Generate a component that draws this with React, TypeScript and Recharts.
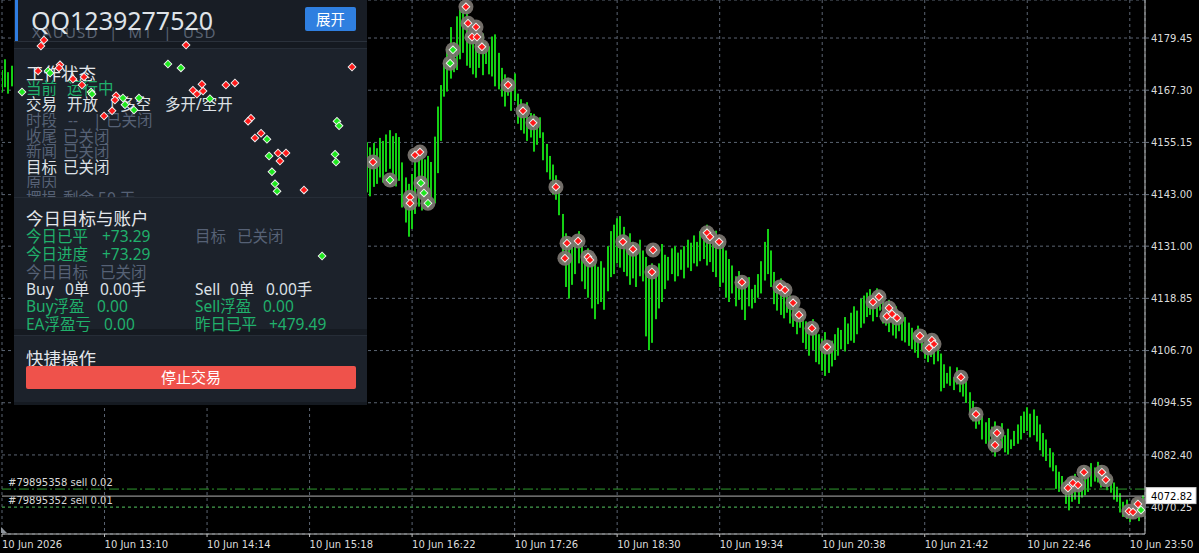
import React from 'react';
import { ComposedChart, Bar, Scatter, XAxis, YAxis, CartesianGrid, ReferenceLine } from 'recharts';

const W = 1199;
const H = 553;

// minutes after 10 Jun 12:06
const xTicks = [0, 64, 128, 192, 256, 320, 384, 448, 512, 576, 640, 704];
const xTickLabels = [
  '10 Jun 2026', '10 Jun 13:10', '10 Jun 14:14', '10 Jun 15:18', '10 Jun 16:22', '10 Jun 17:26',
  '10 Jun 18:30', '10 Jun 19:34', '10 Jun 20:38', '10 Jun 21:42', '10 Jun 22:46', '10 Jun 23:50',
];
const yTicks = [4070.25, 4082.4, 4094.55, 4106.7, 4118.85, 4131.0, 4143.0, 4155.15, 4167.3, 4179.45];

const leftBarTimes = [0, 2, 4, 6];
const leftHighs = [4172.0, 4174.5, 4171.5, 4173.0];
const leftLows = [4166.8, 4168.0, 4166.5, 4168.2];

const mainStart = 228; // 2-minute bars from here
const highs = [
  4155.2, 4154.0, 4155.0, 4153.8, 4156.2, 4155.5, 4157.0, 4158.0, 4156.6, 4157.3,
  4156.4, 4150.5, 4147.0, 4145.5, 4147.8, 4150.8, 4152.5, 4153.0, 4151.2, 4152.0,
  4150.6, 4156.5, 4163.5, 4168.5, 4173.5, 4177.0, 4182.0, 4178.5, 4184.5, 4186.0,
  4187.2, 4185.5, 4183.5, 4181.0, 4182.2, 4179.0, 4180.5, 4178.5, 4177.5, 4179.8,
  4180.3, 4176.0, 4172.5, 4171.0, 4170.2, 4169.5, 4171.2, 4166.5, 4165.2, 4163.8,
  4164.5, 4162.0, 4161.8, 4160.5, 4161.0, 4157.5, 4154.8, 4152.0, 4150.0, 4147.5,
  4145.0, 4138.5, 4134.0, 4133.0, 4131.5, 4132.8, 4134.5, 4131.0, 4129.8, 4130.5,
  4128.8, 4127.0, 4126.2, 4127.5, 4126.0, 4131.0, 4134.5, 4136.0, 4137.5, 4138.0,
  4135.5, 4133.0, 4134.0, 4132.0, 4131.5, 4132.5, 4130.0, 4128.5, 4126.5, 4127.0,
  4125.5, 4127.0, 4131.5, 4129.0, 4128.5, 4130.5, 4131.0, 4129.5, 4130.2, 4131.0,
  4132.5, 4131.8, 4133.5, 4132.0, 4134.5, 4135.0, 4136.0, 4135.2, 4133.8, 4134.6,
  4133.0, 4132.0, 4130.0, 4128.0, 4126.5, 4124.0, 4125.2, 4124.0, 4122.5, 4123.8,
  4121.0, 4122.0, 4124.5, 4127.5, 4132.0, 4135.0, 4130.0, 4125.0, 4122.8, 4123.5,
  4121.5, 4120.0, 4119.5, 4118.0, 4117.5, 4116.2, 4115.0, 4113.5, 4112.8, 4114.0,
  4111.5, 4110.5, 4109.5, 4111.0, 4108.2, 4109.0, 4110.5, 4112.0, 4111.5, 4114.5,
  4113.0, 4115.5, 4117.0, 4116.0, 4118.8, 4119.5, 4120.2, 4121.0, 4120.0, 4121.2,
  4120.5, 4119.2, 4118.0, 4118.5, 4116.8, 4117.0, 4115.5, 4114.0, 4114.5, 4113.2,
  4112.0, 4111.0, 4112.5, 4110.5, 4111.2, 4109.8, 4110.2, 4109.0, 4108.5, 4106.0,
  4103.5, 4101.5, 4103.0, 4100.5, 4102.8, 4101.0, 4100.5, 4099.5, 4097.0, 4095.0,
  4093.5, 4092.8, 4091.5, 4090.0, 4091.0, 4089.0, 4090.2, 4088.5, 4089.8, 4087.0,
  4088.5, 4086.0, 4088.0, 4089.5, 4091.5, 4092.5, 4093.5, 4092.0, 4093.0, 4091.5,
  4089.5, 4087.5, 4086.0, 4084.0, 4083.0, 4080.0, 4078.5, 4077.5, 4076.5, 4076.0,
  4077.5, 4078.0, 4077.0, 4078.5, 4079.8, 4078.5, 4080.5, 4079.5, 4080.8, 4080.0,
  4079.2, 4078.5, 4077.0, 4076.0, 4075.0, 4073.5, 4071.5, 4072.0, 4070.8, 4071.5,
  4072.2, 4071.0, 4073.0,
];
const lows = [
  4143.5, 4142.6, 4144.8, 4145.5, 4147.0, 4145.8, 4148.3, 4149.0, 4147.2, 4144.9,
  4146.2, 4140.0, 4136.5, 4133.2, 4135.0, 4138.5, 4140.2, 4139.3, 4141.0, 4139.8,
  4141.5, 4141.0, 4148.0, 4155.5, 4165.8, 4167.0, 4170.0, 4171.5, 4172.0, 4174.5,
  4176.0, 4173.0, 4172.5, 4171.0, 4170.2, 4172.5, 4170.8, 4173.4, 4171.0, 4170.5,
  4168.2, 4167.5, 4165.8, 4163.5, 4166.0, 4162.5, 4164.8, 4159.5, 4158.0, 4157.2,
  4155.5, 4156.3, 4153.0, 4154.6, 4156.2, 4151.0, 4148.2, 4146.5, 4143.0, 4141.8,
  4138.2, 4127.0, 4121.5, 4118.8, 4122.0, 4124.5, 4127.0, 4122.8, 4121.0, 4119.0,
  4116.5, 4114.0, 4117.5, 4118.0, 4116.2, 4120.5, 4123.8, 4124.5, 4127.0, 4126.0,
  4125.0, 4124.0, 4122.0, 4123.5, 4121.5, 4124.0, 4122.8, 4110.0, 4106.8, 4108.5,
  4114.0, 4116.5, 4118.0, 4121.0, 4123.0, 4124.5, 4122.8, 4124.0, 4125.5, 4123.5,
  4126.0, 4125.2, 4127.0, 4126.3, 4127.5, 4128.0, 4126.5, 4127.3, 4125.0, 4123.8,
  4121.5, 4122.5, 4119.0, 4118.0, 4120.0, 4117.0, 4118.5, 4116.2, 4113.8, 4117.0,
  4116.5, 4117.8, 4119.0, 4120.0, 4123.0, 4124.5, 4121.5, 4117.5, 4116.0, 4115.0,
  4114.2, 4115.5, 4113.0, 4112.2, 4110.5, 4112.0, 4108.5, 4107.0, 4105.5, 4106.8,
  4104.0, 4103.5, 4102.0, 4100.8, 4101.5, 4103.0, 4104.5, 4105.5, 4107.0, 4106.5,
  4108.2, 4109.0, 4108.5, 4110.5, 4112.0, 4113.0, 4114.5, 4115.0, 4113.5, 4114.5,
  4116.0, 4113.0, 4112.5, 4111.0, 4110.2, 4109.5, 4111.2, 4109.0, 4108.6, 4107.8,
  4107.0, 4106.2, 4105.0, 4106.5, 4104.8, 4104.0, 4105.2, 4103.5, 4104.2, 4097.2,
  4098.0, 4099.0, 4098.5, 4097.5, 4098.8, 4097.0, 4096.0, 4094.5, 4092.0, 4090.2,
  4088.5, 4089.5, 4086.0, 4085.0, 4084.2, 4083.0, 4082.0, 4083.5, 4084.0, 4083.0,
  4082.5, 4083.8, 4084.5, 4085.0, 4086.0, 4087.5, 4088.0, 4086.5, 4087.0, 4085.5,
  4083.5, 4082.0, 4081.0, 4079.5, 4078.6, 4074.5, 4073.8, 4074.0, 4071.0, 4069.5,
  4071.5, 4072.0, 4071.0, 4072.5, 4073.0, 4073.8, 4075.0, 4076.2, 4076.0, 4074.8,
  4075.5, 4074.2, 4073.6, 4072.0, 4071.5, 4069.0, 4068.0, 4067.5, 4066.8, 4067.6,
  4068.2, 4067.0, 4068.5,
];

// trade markers: time (minutes after 12:06), price, side (s = sell/red, b = buy/green)
const tradeTimes = [
  24.3, 26.2, 114.9, 22.5, 36.2, 35.6, 44.3, 51.2, 49.9, 71.2, 70.5, 68.7, 63.7, 124.8,
  119.2, 121.7, 125.5, 139.8, 145.4, 155.4, 153.6, 161.7, 157.9, 172.3, 177.3, 173.5, 188.5, 218.5,
  28.7, 30.0, 12.5, 55.6, 56.2, 75.5, 85.5, 76.8, 82.4, 103.6, 111.7, 129.8, 165.4, 166.7,
  168.5, 170.4, 171.7, 209.1, 210.4, 207.9, 208.5, 199.8,
  231.6, 242.2, 254.7, 254.7, 257.8, 260.9, 261.5, 263.4, 265.9, 279.7, 281.5, 289.6, 290.9,
  295.9, 293.4, 296.5, 299.6, 315.9, 325.2, 331.5, 345.8, 352.7, 359.6, 351.4, 365.8, 367.0,
  387.6, 393.9, 406.4, 405.7, 440.1, 441.9, 447.6, 461.9, 485.6, 488.8, 493.8, 497.5, 505.6,
  515.0, 543.7, 547.4, 553.7, 552.4, 555.6, 558.7, 573.0, 580.5, 581.8, 578.7, 598.6, 608.0,
  621.1, 619.9, 665.4, 668.5, 671.7, 675.4, 686.6, 689.1, 703.5, 706.0, 709.1, 711.0,
];
const tradePrices = [
  4177.6, 4179.0, 4177.8, 4171.8, 4173.2, 4172.5, 4169.9, 4170.4, 4168.5, 4166.0, 4165.0, 4162.5, 4161.3, 4168.7,
  4167.3, 4166.4, 4167.1, 4168.5, 4169.0, 4160.8, 4160.1, 4157.3, 4156.2, 4152.7, 4152.7, 4150.8, 4144.1, 4172.7,
  4171.8, 4171.3, 4166.9, 4166.9, 4166.4, 4165.5, 4165.5, 4163.9, 4162.7, 4173.4, 4172.5, 4165.3, 4155.9, 4152.0,
  4148.3, 4145.5, 4143.8, 4160.1, 4159.0, 4152.4, 4150.6, 4128.7,
  4150.6, 4146.4, 4142.4, 4141.0, 4152.2, 4152.9, 4145.7, 4143.4, 4141.0, 4173.6, 4176.7, 4186.7, 4182.9,
  4182.0, 4179.7, 4179.7, 4177.4, 4168.5, 4162.5, 4159.7, 4144.8, 4131.7, 4132.2, 4128.2, 4128.5, 4127.8,
  4132.0, 4130.3, 4130.1, 4125.0, 4134.1, 4133.2, 4132.0, 4122.6, 4121.5, 4120.8, 4117.8, 4115.0, 4111.9,
  4107.5, 4118.0, 4119.2, 4116.6, 4114.7, 4115.2, 4114.3, 4110.1, 4109.1, 4108.2, 4107.3, 4100.5, 4091.9,
  4087.5, 4084.7, 4074.7, 4075.9, 4075.4, 4078.4, 4078.4, 4076.6, 4069.3, 4069.1, 4071.0, 4069.6,
];
const tradeSides = [
  's', 's', 's', 's', 's', 's', 's', 's', 's', 's', 's', 's', 's', 's',
  's', 's', 's', 's', 's', 's', 's', 's', 's', 's', 's', 's', 's', 's',
  'b', 'b', 'b', 'b', 'b', 'b', 'b', 'b', 'b', 'b', 'b', 'b', 'b', 'b',
  'b', 'b', 'b', 'b', 'b', 'b', 'b', 'b',
  's', 'b', 's', 's', 's', 's', 'b', 'b', 'b', 'b', 'b', 's', 's',
  's', 's', 's', 's', 's', 's', 's', 's', 's', 's', 's', 's', 's',
  's', 's', 's', 's', 's', 's', 's', 's', 's', 's', 's', 's', 's',
  's', 's', 's', 's', 's', 's', 's', 's', 's', 's', 's', 's', 's',
  's', 's', 's', 's', 's', 's', 's', 's', 's', 's', 's', 'b',
];

const orderPrices = [4074.46, 4070.25];
const orderLabels = ['#79895358 sell 0.02', '#79895352 sell 0.01'];
const bidPrice = 4072.82;

const bars = [
  ...leftBarTimes.map((t, i) => ({ t, range: [leftLows[i], leftHighs[i]] })),
  ...highs.map((h, i) => ({ t: mainStart + 2 * i, range: [lows[i], h] })),
];
const trades = tradeTimes.map((t, i) => ({ t, price: tradePrices[i], side: tradeSides[i] }));

const X_DOMAIN: [number, number] = [0, 713.5];
const Y_DOMAIN: [number, number] = [4064.0, 4188.3];
const AXIS_FONT = "'DejaVu Sans', sans-serif";

const BarShape = (p: any) => {
  if (p.x == null || p.y == null) return null;
  const cx = p.x + p.width / 2;
  const top = Math.min(p.y, p.y + p.height);
  const h = Math.max(Math.abs(p.height), 1);
  return <rect x={Math.round(cx - 1)} y={top} width={2} height={h} fill="#14d014" />;
};

const Halo = (p: any) => {
  if (p.cx == null) return null;
  return <circle cx={p.cx} cy={p.cy} r={7.5} fill="#7c7671" fillOpacity={0.92} />;
};

const Glyph = (p: any) => {
  if (p.cx == null) return null;
  const { cx, cy } = p;
  const col = p.payload.side === 'b' ? '#1ee81e' : '#ff1a1a';
  const d = (r: number) => `${cx},${cy - r} ${cx + r},${cy} ${cx},${cy + r} ${cx - r},${cy}`;
  return (
    <g>
      <polygon points={d(4.5)} fill="#f4f4f4" />
      <polygon points={d(3.2)} fill={col} />
    </g>
  );
};

const XTick = (p: any) => {
  const idx = xTicks.indexOf(p.payload.value);
  return (
    <text x={p.x} y={p.y} dy={9} textAnchor="start" fontFamily={AXIS_FONT} fontSize={10} fill="#dcdcdc">
      {xTickLabels[idx]}
    </text>
  );
};

const makeOrderLabel = (text: string) => (p: any) => {
  const vb = p.viewBox || {};
  return (
    <text x={(vb.x || 0) + 6} y={(vb.y || 0) - 3} fontFamily={AXIS_FONT} fontSize={10} fill="#d8d8d8">
      {text}
    </text>
  );
};

const BidLabel = (p: any) => {
  const vb = p.viewBox || {};
  const x = (vb.x || 0) + (vb.width || 0) + 1;
  const y = vb.y || 0;
  return (
    <g>
      <rect x={x} y={y - 8.5} width={50} height={16} fill="#ffffff" stroke="#cfcfcf" />
      <text x={x + 5} y={y + 3.5} fontFamily={AXIS_FONT} fontSize={10} fill="#000000">
        {bidPrice.toFixed(2)}
      </text>
    </g>
  );
};

const PANEL_FONT = "'Noto Sans', 'Noto Sans CJK SC', sans-serif";
const GREEN = '#20b06b';
const WHITE = '#dde1e6';
const GRAY = '#566175';

const T = ({ x, y, c, s = 15.5, children }: { x: number; y: number; c: string; s?: number; children: React.ReactNode }) => (
  <div
    style={{
      position: 'absolute', left: x - 14, top: y - 10, height: 20, lineHeight: '20px',
      fontSize: s, color: c, whiteSpace: 'pre', fontFamily: PANEL_FONT,
    }}
  >
    {children}
  </div>
);

const Panel = () => (
  <div style={{ position: 'absolute', left: 14, top: 0, width: 353, height: 405, background: '#151a21', overflow: 'hidden' }}>
    {/* header */}
    <div style={{ position: 'absolute', left: 0, top: 0, width: 353, height: 41, background: '#181d25', overflow: 'hidden' }}>
      <div style={{ position: 'absolute', left: 1, top: 0, width: 3, height: 41, background: '#2f7de1' }} />
      <div style={{ position: 'absolute', left: 18, top: 22, fontSize: 15, letterSpacing: 1.2, lineHeight: '20px', color: '#5a6373', fontFamily: PANEL_FONT, whiteSpace: 'pre' }}>
        XAUUSD  |  M1  |  USD
      </div>
      <div style={{ position: 'absolute', left: 17, top: 5, fontSize: 25, lineHeight: '30px', color: '#dfe3e8', fontFamily: PANEL_FONT }}>
        QQ1239277520
      </div>
      <div style={{ position: 'absolute', left: 291, top: 7, width: 51, height: 24, background: '#2f7fe0', borderRadius: 2, color: '#ffffff', fontSize: 14.5, lineHeight: '24px', textAlign: 'center', fontFamily: PANEL_FONT }}>
        展开
      </div>
    </div>
    <div style={{ position: 'absolute', left: 0, top: 41, width: 353, height: 1, background: '#2a313b' }} />
    {/* section 1 */}
    <div style={{ position: 'absolute', left: 0, top: 48, width: 353, height: 148, background: '#1c222b', borderTop: '1px solid #262d37' }} />
    {/* section 2 */}
    <div style={{ position: 'absolute', left: 0, top: 197, width: 353, height: 131, background: '#1c222b', borderTop: '1px solid #262d37' }} />
    {/* section 3 */}
    <div style={{ position: 'absolute', left: 0, top: 335, width: 353, height: 66, background: '#1c222b', borderTop: '1px solid #262d37' }} />
  </div>
);

const PanelText = () => (
  <div style={{ position: 'absolute', left: 14, top: 0, width: 353, height: 405, overflow: 'hidden' }}>
    <div style={{ position: 'absolute', left: 0, top: 48, width: 353, height: 140, overflow: 'hidden' }}>
      <div style={{ position: 'absolute', left: 0, top: -48 }}>
        <T x={26} y={73} c="#e4e7eb" s={17.5}>工作状态</T>
        <T x={26} y={88} c={GREEN}>当前</T>
        <T x={67} y={88} c={GREEN}>运行中</T>
        <T x={26} y={104} c={WHITE}>交易</T>
        <T x={67} y={104} c={WHITE}>开放</T>
        <T x={108} y={104} c={WHITE}>|</T>
        <T x={120} y={104} c={WHITE}>多空</T>
        <T x={165} y={104} c={WHITE}>多开/空开</T>
        <T x={26} y={120} c={GRAY}>时段</T>
        <T x={68} y={120} c={GRAY}>--</T>
        <T x={93} y={120} c={GRAY}>|</T>
        <T x={106} y={120} c={GRAY}>已关闭</T>
        <T x={26} y={135.5} c={GRAY}>收尾</T>
        <T x={63} y={135.5} c={GRAY}>已关闭</T>
        <T x={26} y={151} c={GRAY}>新闻</T>
        <T x={63} y={151} c={GRAY}>已关闭</T>
        <T x={26} y={167} c={WHITE}>目标</T>
        <T x={63} y={167} c={WHITE}>已关闭</T>
        <T x={26} y={182.5} c={GRAY}>原因</T>
      </div>
    </div>
    <div style={{ position: 'absolute', left: 0, top: 188, width: 353, height: 9, overflow: 'hidden' }}>
      <div style={{ position: 'absolute', left: 0, top: -188 }}>
        <T x={26} y={198} c={GRAY}>摆损</T>
        <T x={63} y={198} c={GRAY}>剩余 50 天</T>
      </div>
    </div>
    <T x={26} y={218} c="#e4e7eb" s={17.5}>今日目标与账户</T>
    <T x={26} y={236} c={GREEN}>今日已平</T>
    <T x={102} y={236} c={GREEN}>+73.29</T>
    <T x={195} y={236} c={GRAY}>目标</T>
    <T x={237} y={236} c={GRAY}>已关闭</T>
    <T x={26} y={253.5} c={GREEN}>今日进度</T>
    <T x={102} y={253.5} c={GREEN}>+73.29</T>
    <T x={26} y={271.5} c={GRAY}>今日目标</T>
    <T x={100} y={271.5} c={GRAY}>已关闭</T>
    <T x={26} y={289} c={WHITE}>Buy</T>
    <T x={65} y={289} c={WHITE}>0单</T>
    <T x={100} y={289} c={WHITE}>0.00手</T>
    <T x={195} y={289} c={WHITE}>Sell</T>
    <T x={230} y={289} c={WHITE}>0单</T>
    <T x={266} y={289} c={WHITE}>0.00手</T>
    <T x={26} y={306} c={GREEN}>Buy浮盈</T>
    <T x={97} y={306} c={GREEN}>0.00</T>
    <T x={195} y={306} c={GREEN}>Sell浮盈</T>
    <T x={263} y={306} c={GREEN}>0.00</T>
    <T x={26} y={323.5} c={GREEN}>EA浮盈亏</T>
    <T x={104} y={323.5} c={GREEN}>0.00</T>
    <T x={195} y={323.5} c={GREEN}>昨日已平</T>
    <T x={269} y={323.5} c={GREEN}>+479.49</T>
    <T x={26} y={357.5} c="#e4e7eb" s={17.5}>快捷操作</T>
    <div style={{ position: 'absolute', left: 12, top: 366, width: 330, height: 23, background: '#ef524b', borderRadius: 2, color: '#ffffff', fontSize: 15, lineHeight: '23px', textAlign: 'center', fontFamily: PANEL_FONT }}>
      停止交易
    </div>
  </div>
);

export default function App() {
  return (
    <div style={{ position: 'fixed', left: 0, top: 0, width: W, height: H, background: '#000000', overflow: 'hidden' }}>
      <div style={{ position: 'absolute', left: 0, top: 0 }}>
        <ComposedChart width={W} height={H} data={bars} margin={{ top: 0, right: 0, bottom: 0, left: 2 }}>
          <CartesianGrid stroke="#5b6472" strokeDasharray="3 3" />
          <XAxis
            dataKey="t" type="number" domain={X_DOMAIN} ticks={xTicks} interval={0} height={19}
            tickSize={3} tickMargin={2} axisLine={{ stroke: '#bdbdbd' }} tickLine={{ stroke: '#bdbdbd' }}
            tick={XTick} allowDataOverflow
          />
          <YAxis
            orientation="right" type="number" domain={Y_DOMAIN} ticks={yTicks} interval={0} width={54}
            tickSize={4} tickMargin={2} axisLine={{ stroke: '#bdbdbd' }} tickLine={{ stroke: '#6b7380' }}
            tick={{ fill: '#dcdcdc', fontSize: 10, fontFamily: AXIS_FONT }}
            tickFormatter={(v: number) => Number(v).toFixed(2)} allowDataOverflow
          />
          <Bar dataKey="range" barSize={2} shape={BarShape} isAnimationActive={false} />
          <ReferenceLine y={orderPrices[0]} stroke="#2f9a2f" strokeDasharray="10 3 2 3" label={makeOrderLabel(orderLabels[0])} />
          <ReferenceLine y={orderPrices[1]} stroke="#2f9a2f" strokeDasharray="3 3" label={makeOrderLabel(orderLabels[1])} />
          <ReferenceLine y={bidPrice} stroke="#b0b0b0" label={BidLabel} />
          <Scatter data={trades} dataKey="price" shape={Halo} isAnimationActive={false} />
        </ComposedChart>
      </div>
      <Panel />
      <PanelText />
      <div style={{ position: 'absolute', left: 0, top: 0, pointerEvents: 'none' }}>
        <ComposedChart width={W} height={H} data={trades} margin={{ top: 0, right: 54, bottom: 19, left: 2 }}>
          <XAxis dataKey="t" type="number" domain={X_DOMAIN} hide allowDataOverflow />
          <YAxis type="number" domain={Y_DOMAIN} hide allowDataOverflow />
          <Scatter dataKey="price" shape={Glyph} isAnimationActive={false} />
        </ComposedChart>
      </div>
      <svg width={10} height={10} style={{ position: 'absolute', left: 0, top: 526 }}>
        <polygon points="1,1 1,7 7,7" fill="#8f959c" />
      </svg>
    </div>
  );
}
